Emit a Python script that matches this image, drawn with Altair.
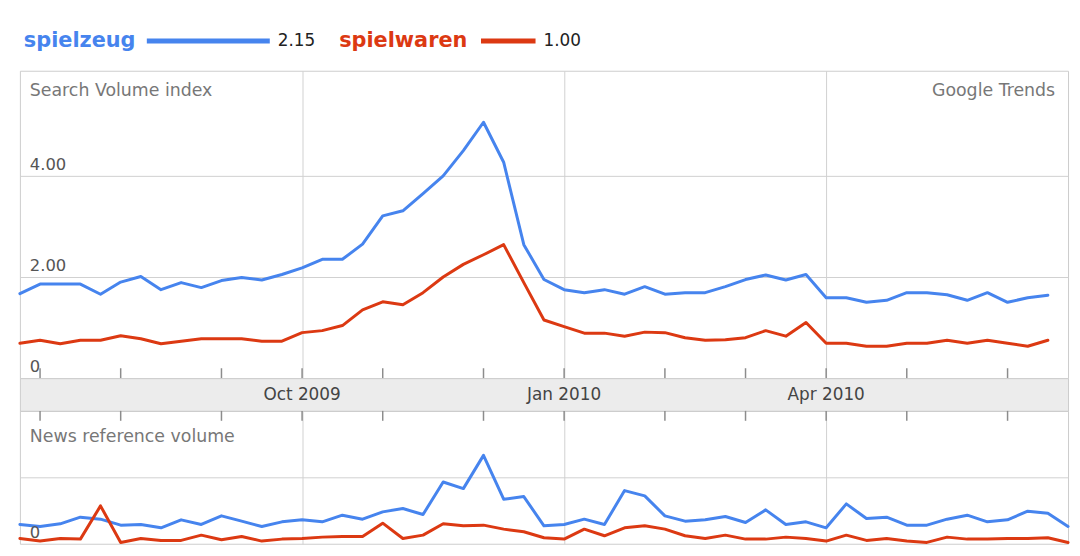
import altair as alt
import pandas as pd

FONT = "DejaVu Sans"

terms = ["spielzeug", "spielwaren"]
term_colors = ["#4684EE", "#DC3912"]
term_averages = ["2.15", "1.00"]

week_dates = pd.date_range("2009-06-21", periods=53, freq="7D")

search_spielzeug = [1.67, 1.86, 1.86, 1.86, 1.66, 1.90, 2.01, 1.75, 1.89, 1.79,
                    1.93, 1.99, 1.94, 2.05, 2.18, 2.35, 2.35, 2.65, 3.21, 3.31,
                    3.65, 4.00, 4.50, 5.06, 4.27, 2.64, 1.95, 1.75, 1.69, 1.75,
                    1.66, 1.81, 1.66, 1.69, 1.69, 1.81, 1.95, 2.04, 1.94, 2.05,
                    1.59, 1.59, 1.50, 1.54, 1.69, 1.69, 1.65, 1.54, 1.69, 1.50,
                    1.59, 1.64]
search_spielwaren = [0.69, 0.75, 0.68, 0.75, 0.75, 0.84, 0.78, 0.68, 0.73, 0.78,
                     0.78, 0.78, 0.73, 0.73, 0.90, 0.94, 1.04, 1.35, 1.51, 1.45,
                     1.69, 2.00, 2.25, 2.44, 2.64, 1.89, 1.15, 1.02, 0.89, 0.89,
                     0.83, 0.91, 0.90, 0.80, 0.75, 0.76, 0.80, 0.94, 0.83, 1.10,
                     0.69, 0.69, 0.63, 0.63, 0.69, 0.69, 0.75, 0.69, 0.75, 0.69,
                     0.63, 0.75]
news_spielzeug = [0.29, 0.26, 0.30, 0.40, 0.37, 0.28, 0.29, 0.24, 0.36, 0.29,
                  0.42, 0.34, 0.26, 0.33, 0.36, 0.33, 0.43, 0.37, 0.48, 0.53,
                  0.44, 0.93, 0.83, 1.33, 0.67, 0.71, 0.27, 0.29, 0.37, 0.29,
                  0.80, 0.72, 0.42, 0.34, 0.36, 0.41, 0.32, 0.51, 0.29, 0.33,
                  0.24, 0.60, 0.38, 0.40, 0.28, 0.28, 0.37, 0.43, 0.33, 0.36,
                  0.49, 0.46, 0.26]
news_spielwaren = [0.08, 0.04, 0.08, 0.07, 0.57, 0.02, 0.08, 0.05, 0.05, 0.13,
                   0.06, 0.11, 0.04, 0.07, 0.08, 0.10, 0.11, 0.11, 0.31, 0.08,
                   0.13, 0.30, 0.27, 0.28, 0.22, 0.18, 0.09, 0.07, 0.22, 0.12,
                   0.24, 0.27, 0.22, 0.12, 0.08, 0.13, 0.07, 0.07, 0.10, 0.08,
                   0.04, 0.13, 0.05, 0.08, 0.04, 0.02, 0.10, 0.07, 0.07, 0.08,
                   0.08, 0.09, 0.02]

month_tick_dates = ["2009-06-28", "2009-07-26", "2009-08-30", "2009-09-27",
                    "2009-10-25", "2009-11-29", "2009-12-27", "2010-01-31",
                    "2010-02-28", "2010-03-28", "2010-04-25", "2010-05-30"]
quarter_dates = ["2009-09-27", "2009-12-27", "2010-03-28"]
quarter_labels = ["Oct 2009", "Jan 2010", "Apr 2010"]
search_tick_values = [0, 2, 4]
search_tick_labels = ["0", "2.00", "4.00"]
news_tick_values = [0]
news_tick_labels = ["0"]

W = 1057
H_HEAD, H_TOP, H_BAND, H_BOT = 60, 310, 33, 134


def dt(s):
    t = pd.Timestamp(s)
    return alt.DateTime(year=t.year, month=t.month, date=t.day)


xscale = alt.Scale(domain=[dt("2009-06-21"), dt("2010-06-20")])
grid_axis = alt.Axis(values=[dt(d) for d in quarter_dates], grid=True, labels=False,
                     ticks=False, domain=False, title=None)
x_enc = alt.X("date:T", scale=xscale, axis=grid_axis)

# ---------- data frames ----------
n_s = len(search_spielzeug)
search_df = pd.DataFrame({
    "date": list(week_dates[:n_s]) * 2,
    "term": [terms[0]] * n_s + [terms[1]] * n_s,
    "value": search_spielzeug + search_spielwaren,
})
n_n = len(news_spielzeug)
news_df = pd.DataFrame({
    "date": list(week_dates[:n_n]) * 2,
    "term": [terms[0]] * n_n + [terms[1]] * n_n,
    "value": news_spielzeug + news_spielwaren,
})
ticks_df = pd.DataFrame({"date": pd.to_datetime(month_tick_dates)})
quarter_df = pd.DataFrame({"date": pd.to_datetime(quarter_dates), "label": quarter_labels})
legend_df = pd.DataFrame({"term": terms, "avg": term_averages, "color": term_colors})


def panel(df, ydomain, ygrid, tick_vals, tick_labels, title_text, title_y, height,
          tick_y, show_brand):
    yscale = alt.Scale(domain=ydomain, nice=False, zero=True)
    y_axis = alt.Axis(values=ygrid, grid=True, labels=False, ticks=False,
                      domain=False, title=None)
    y_enc = alt.Y("value:Q", scale=yscale, axis=y_axis)
    layers = []
    for term, color in zip(terms, term_colors):
        layers.append(
            alt.Chart(df).transform_filter(alt.datum.term == term)
            .mark_line(color=color, strokeWidth=3, strokeJoin="round", strokeCap="round")
            .encode(x=x_enc, y=y_enc)
        )
    lab_df = pd.DataFrame({"value": tick_vals, "t": tick_labels})
    layers.append(
        alt.Chart(lab_df).mark_text(align="left", baseline="alphabetic", dy=-6,
                                    fontSize=16.5, font=FONT, color="#555555")
        .encode(x=alt.value(10), y=y_enc, text="t:N")
    )
    layers.append(
        alt.Chart(ticks_df).mark_rule(color="#8c8c8c", strokeWidth=1.5)
        .encode(x=x_enc, y=alt.value(tick_y[0]), y2=alt.value(tick_y[1]))
    )
    layers.append(
        alt.Chart(pd.DataFrame({"t": [title_text]}))
        .mark_text(align="left", baseline="middle", fontSize=17.5, font=FONT, color="#777777")
        .encode(x=alt.value(10), y=alt.value(title_y), text="t:N")
    )
    if show_brand:
        layers.append(
            alt.Chart(pd.DataFrame({"t": ["Google Trends"]}))
            .mark_text(align="right", baseline="middle", fontSize=17.5, font=FONT, color="#777777")
            .encode(x=alt.value(W - 13), y=alt.value(title_y), text="t:N")
        )
    return alt.layer(*layers).properties(width=W, height=height)


top = panel(search_df, [0, H_TOP / 51.0], [2, 4], search_tick_values, search_tick_labels,
            "Search Volume index", 20, H_TOP, (H_TOP - 10, H_TOP), True)
bottom = panel(news_df, [0, 2], [1], news_tick_values, news_tick_labels,
               "News reference volume", 26, H_BOT, (0, 10), False)

band = (
    alt.Chart(quarter_df)
    .mark_text(align="center", baseline="middle", fontSize=17, font=FONT, color="#444444")
    .encode(x=alt.X("date:T", scale=xscale, axis=None), y=alt.value(H_BAND / 2 + 1), text="label:N")
    .properties(width=W, height=H_BAND,
                view=alt.ViewBackground(fill="#ececec", stroke="#cccccc"))
)

# ---------- header legend ----------
LY = 30
head_layers = []
legend_pos = [(4, 128, 252, 260), (322, 465, 520, 528)]
for (term, color), (tx, r0, r1, ax) in zip(zip(terms, term_colors), legend_pos):
    base = alt.Chart(legend_df).transform_filter(alt.datum.term == term)
    head_layers.append(
        base.mark_text(align="left", baseline="middle", fontSize=21, fontWeight="bold",
                       font=FONT, color=color)
        .encode(x=alt.value(tx), y=alt.value(LY), text="term:N")
    )
    head_layers.append(
        base.mark_rule(color=color, strokeWidth=5)
        .encode(x=alt.value(r0), x2=alt.value(r1), y=alt.value(LY))
    )
    head_layers.append(
        base.mark_text(align="left", baseline="middle", fontSize=17, font=FONT, color="#222222")
        .encode(x=alt.value(ax), y=alt.value(LY), text="avg:N")
    )
header = alt.layer(*head_layers).properties(
    width=W, height=H_HEAD, view=alt.ViewBackground(stroke="transparent"))

chart = (
    alt.vconcat(header, top, band, bottom, spacing=0, bounds="flush")
    .properties(padding={"left": 10, "right": 2, "top": 0, "bottom": 2})
    .configure_view(stroke="#cccccc", strokeWidth=1)
    .configure_axis(gridColor="#d0d0d0", gridWidth=1)
)

chart.save("out.html", embed_options={"renderer": "svg", "actions": False})
